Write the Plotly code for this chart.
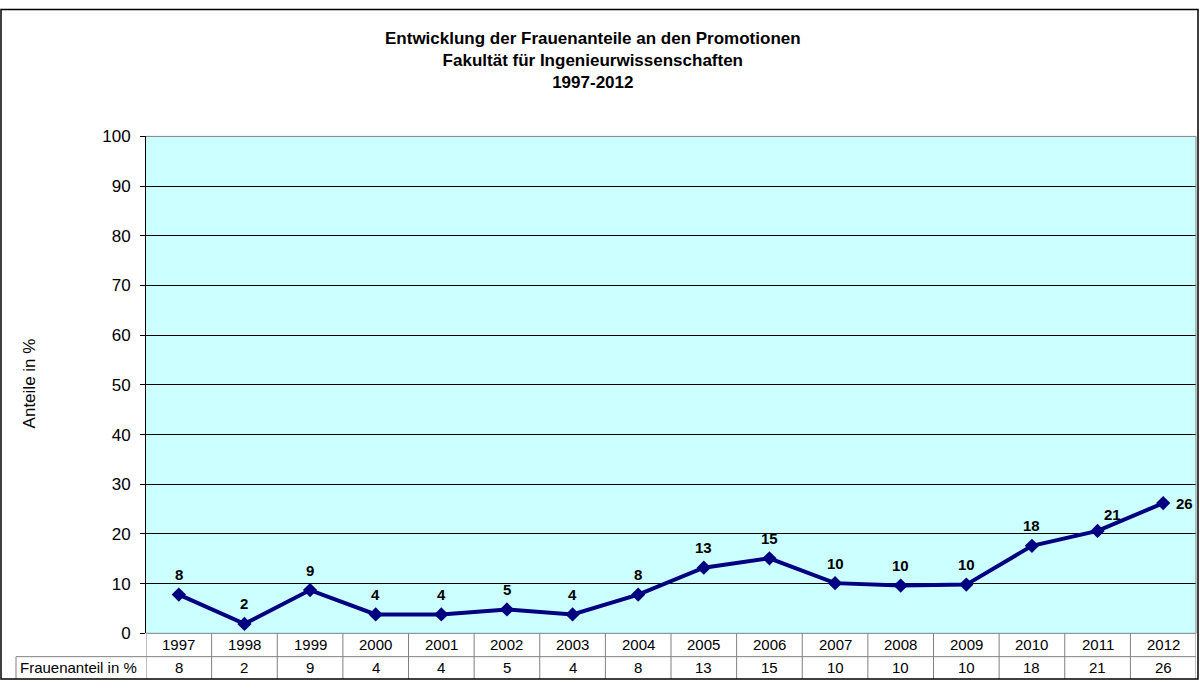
import plotly.graph_objects as go

years = ["1997", "1998", "1999", "2000", "2001", "2002", "2003", "2004",
         "2005", "2006", "2007", "2008", "2009", "2010", "2011", "2012"]
share = [7.8, 1.9, 8.7, 3.8, 3.8, 4.8, 3.8, 7.8, 13.2, 15.1, 10.1, 9.6, 9.8, 17.6, 20.6, 26.2]
labels = ["8", "2", "9", "4", "4", "5", "4", "8", "13", "15", "10", "10", "10", "18", "21", "26"]
row_label = "Frauenanteil in %"
title_lines = ["Entwicklung der Frauenanteile an den Promotionen",
               "Fakultät für Ingenieurwissenschaften",
               "1997-2012"]
y_title = "Anteile in %"

W, H = 1200, 690
FONT = "Liberation Sans, Arial, sans-serif"
NAVY = "#000080"
GRAY = "#808080"

def px(x):
    return x / W

def py(y):
    return (H - y) / H

PL, PR, PT, PB = 146, 1196, 131, 642
ROW1, ROW2 = 666, 689

fig = go.Figure()
fig.add_trace(go.Scatter(
    x=years, y=share, mode="lines+markers",
    line=dict(color=NAVY, width=4),
    marker=dict(symbol="diamond", size=11, color=NAVY),
    hoverinfo="skip", showlegend=False,
))

ann = []
for i, (yr, v, t) in enumerate(zip(years, share, labels)):
    xs, ys = 0, 20
    if yr == "2012":
        xs, ys = 21, 0
    elif yr == "2011":
        xs, ys = 15, 16
    ann.append(dict(x=i, y=v, xref="x", yref="y", text=f"<b>{t}</b>",
                    showarrow=False, xshift=xs, yshift=ys,
                    font=dict(family=FONT, size=15, color="black")))
for i, (yr, t) in enumerate(zip(years, labels)):
    ann.append(dict(x=i, y=py((PB + ROW1) / 2), xref="x", yref="paper", text=yr,
                    showarrow=False, yanchor="middle",
                    font=dict(family=FONT, size=15, color="black")))
    ann.append(dict(x=i, y=py((ROW1 + ROW2) / 2), xref="x", yref="paper", text=t,
                    showarrow=False, yanchor="middle",
                    font=dict(family=FONT, size=15, color="black")))
ann.append(dict(x=px(18), y=py((ROW1 + ROW2) / 2), xref="paper", yref="paper",
                text=row_label, showarrow=False, xanchor="left", yanchor="middle",
                font=dict(family=FONT, size=15, color="black")))
ann.append(dict(x=px(593), y=py(52.5), xref="paper", yref="paper",
                text="<br>".join(f"<b>{l}</b>" for l in title_lines),
                showarrow=False, xanchor="center", yanchor="middle",
                font=dict(family=FONT, size=17, color="black")))
ann.append(dict(x=px(29), y=py(385), xref="paper", yref="paper", text=y_title,
                textangle=-90, showarrow=False, xanchor="center", yanchor="middle",
                font=dict(family=FONT, size=17, color="black")))

shapes = []
for (x0, y0, x1, y1) in [(PL, PT, PR, PT), (PR, PT, PR, PB), (PL, PB, PR, PB)]:
    shapes.append(dict(type="line", xref="paper", yref="paper",
                       x0=px(x0), y0=py(y0), x1=px(x1), y1=py(y1),
                       line=dict(color=GRAY, width=1), layer="above"))
for i in range(len(years) + 1):
    shapes.append(dict(type="line", xref="x", yref="paper",
                       x0=i - 0.5, x1=i - 0.5, y0=py(PB), y1=py(ROW2),
                       line=dict(color=GRAY, width=1)))
shapes.append(dict(type="line", xref="paper", yref="paper",
                   x0=px(16), x1=px(PR), y0=py(ROW1), y1=py(ROW1),
                   line=dict(color=GRAY, width=1)))
shapes.append(dict(type="line", xref="paper", yref="paper",
                   x0=px(16), x1=px(16), y0=py(ROW1), y1=py(ROW2),
                   line=dict(color=GRAY, width=1)))
shapes.append(dict(type="rect", xref="paper", yref="paper",
                   x0=px(1), x1=px(1198), y0=py(689), y1=py(0.5),
                   line=dict(color="black", width=1.5)))

fig.update_layout(
    width=W, height=H, autosize=False,
    margin=dict(l=0, r=0, t=0, b=0),
    paper_bgcolor="white",
    plot_bgcolor="#CCFFFF",
    font=dict(family=FONT, color="black"),
    xaxis=dict(type="category", categoryorder="array", categoryarray=years,
               range=[-0.5, len(years) - 0.5], domain=[px(PL), px(PR)],
               showticklabels=False, showgrid=False, zeroline=False,
               showline=False, ticks=""),
    yaxis=dict(range=[0, 100], dtick=10, domain=[py(PB), py(PT)],
               showgrid=True, gridcolor="black", gridwidth=1, zeroline=False,
               showline=True, linecolor="black", linewidth=1,
               ticks="outside", ticklen=5, tickcolor="black",
               tickfont=dict(family=FONT, size=17, color="black"),
               ticklabelstandoff=6),
    annotations=ann,
    shapes=shapes,
    showlegend=False,
)

fig.write_html("out.html",
               config={"displayModeBar": False, "responsive": False},
               default_width="1200px", default_height="690px",
               post_script="document.body.style.margin='0';document.body.style.overflow='hidden';")
